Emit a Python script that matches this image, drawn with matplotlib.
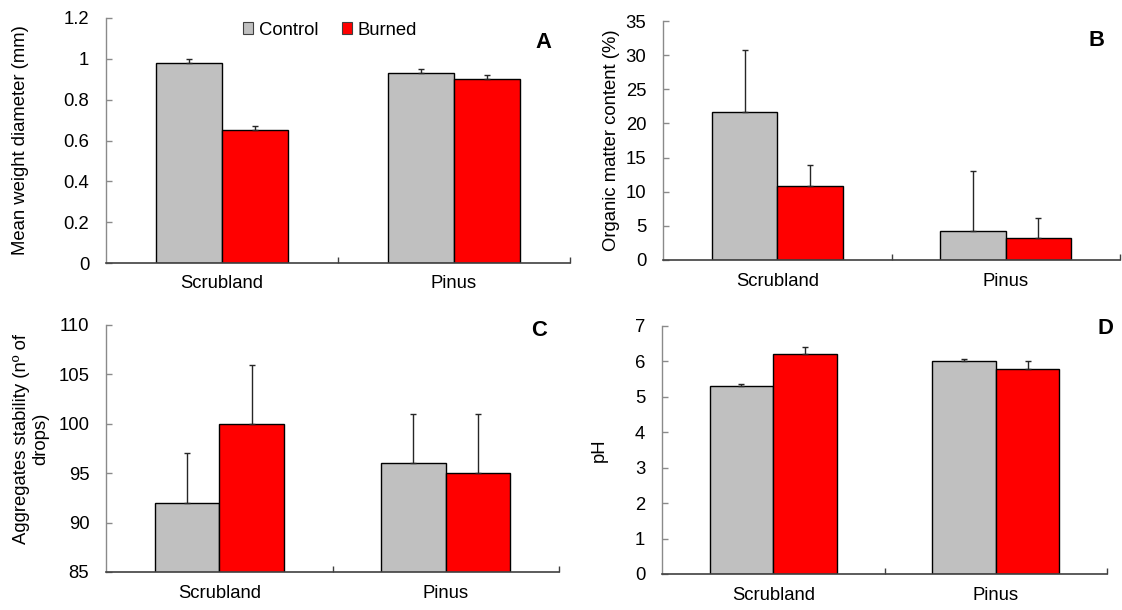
import numpy as np
import matplotlib
matplotlib.use('Agg')
import matplotlib.pyplot as plt
from matplotlib.patches import Patch
from matplotlib.ticker import FuncFormatter

plt.rcParams['font.family'] = ['Liberation Sans', 'DejaVu Sans']

# ====================== DADOS ======================
categories = ['Scrubland', 'Pinus']

mwd_control = [0.98, 0.93]
mwd_burned = [0.65, 0.90]
mwd_control_err = [0.02, 0.02]
mwd_burned_err = [0.02, 0.02]

om_control = [21.7, 4.2]
om_burned = [10.9, 3.2]
om_control_err = [9.0, 8.9]
om_burned_err = [3.0, 3.0]

as_control = [92, 96]
as_burned = [100, 95]
as_control_err = [5, 5]
as_burned_err = [6, 6]

ph_control = [5.3, 6.0]
ph_burned = [6.2, 5.8]
ph_control_err = [0.07, 0.07]
ph_burned_err = [0.2, 0.2]

W, H = 1122, 610
GRAY = '#c0c0c0'
RED = '#ff0000'
FS = 13.3


def box(left, right, top, bottom):
    return [left / W, 1 - bottom / H, (right - left) / W, (bottom - top) / H]


def panel(fig, rect, control, burned, c_err, b_err, ylim, step, ylabel, label_xy):
    ax = fig.add_axes(rect)
    x = np.arange(len(categories))
    w = 1 / 3.5
    ax.bar(x - w / 2, control, w, color=GRAY, edgecolor='black', linewidth=1.0, zorder=2)
    ax.bar(x + w / 2, burned, w, color=RED, edgecolor='black', linewidth=1.0, zorder=2)
    zeros = np.zeros(len(x))
    ax.errorbar(x - w / 2, control, yerr=[zeros, c_err], fmt='none', ecolor='#262626',
                elinewidth=1, capsize=2.5, capthick=1, zorder=3)
    ax.errorbar(x + w / 2, burned, yerr=[zeros, b_err], fmt='none', ecolor='#262626',
                elinewidth=1, capsize=2.5, capthick=1, zorder=3)

    ax.set_xlim(-0.5, 1.5)
    ax.set_ylim(*ylim)
    ax.set_yticks(np.arange(ylim[0], ylim[1] + step / 2, step))
    ax.yaxis.set_major_formatter(FuncFormatter(lambda v, p: '{:g}'.format(round(v, 6))))
    ax.set_xticks(x)
    ax.set_xticklabels(categories)
    ax.set_xticks([0.5, 1.5], minor=True)

    for s in ['top', 'right']:
        ax.spines[s].set_visible(False)
    ax.spines['left'].set_color('#8a8a8a')
    ax.spines['bottom'].set_color('#404040')
    ax.spines['left'].set_linewidth(1.0)
    ax.spines['bottom'].set_linewidth(1.2)

    ax.tick_params(axis='y', direction='in', length=4.3, width=1, color='#8a8a8a',
                   pad=12, labelsize=FS)
    ax.tick_params(axis='x', which='major', length=0, pad=9, labelsize=FS)
    ax.tick_params(axis='x', which='minor', direction='in', length=4.3, width=1, color='#404040')

    ax.set_ylabel(ylabel, fontsize=FS, ha='center', va='center', multialignment='center')
    fig.text(label_xy[0] / W, 1 - label_xy[1] / H, label_xy[2], fontsize=FS + 2.5,
             fontweight='bold', ha='center', va='center')
    return ax


fig = plt.figure(figsize=(W / 100, H / 100), dpi=100)

axA = panel(fig, box(106, 570, 18, 263), mwd_control, mwd_burned, mwd_control_err,
            mwd_burned_err, (0, 1.2), 0.2, 'Mean weight diameter (mm)', (543, 43, 'A'))
axA.yaxis.set_label_coords(-0.185, 0.5)

axB = panel(fig, box(663, 1120, 21, 260), om_control, om_burned, om_control_err,
            om_burned_err, (0, 35), 5, 'Organic matter content (%)', (1096, 40, 'B'))
axB.yaxis.set_label_coords(-0.112, 0.5)

axC = panel(fig, box(106, 559, 325, 572), as_control, as_burned, as_control_err,
            as_burned_err, (85, 110), 5, 'Aggregates stability (nº of\ndrops)', (539, 330, 'C'))
axC.yaxis.set_label_coords(-0.166, 0.54)

axD = panel(fig, box(662, 1107, 326, 574), ph_control, ph_burned, ph_control_err,
            ph_burned_err, (0, 7), 1, 'pH', (1105, 328, 'D'))
axD.yaxis.set_label_coords(-0.14, 0.5)

handles = [Patch(facecolor=GRAY, edgecolor='#404040', linewidth=0.8, label='Control'),
           Patch(facecolor=RED, edgecolor='#404040', linewidth=0.8, label='Burned')]
axA.legend(handles=handles, loc='center', bbox_to_anchor=(0.483, 0.951), ncol=2,
           frameon=False, fontsize=FS, handlelength=0.55, handleheight=0.55,
           handletextpad=0.3, columnspacing=1.3, borderpad=0)

fig.savefig('out.png', dpi=100)
